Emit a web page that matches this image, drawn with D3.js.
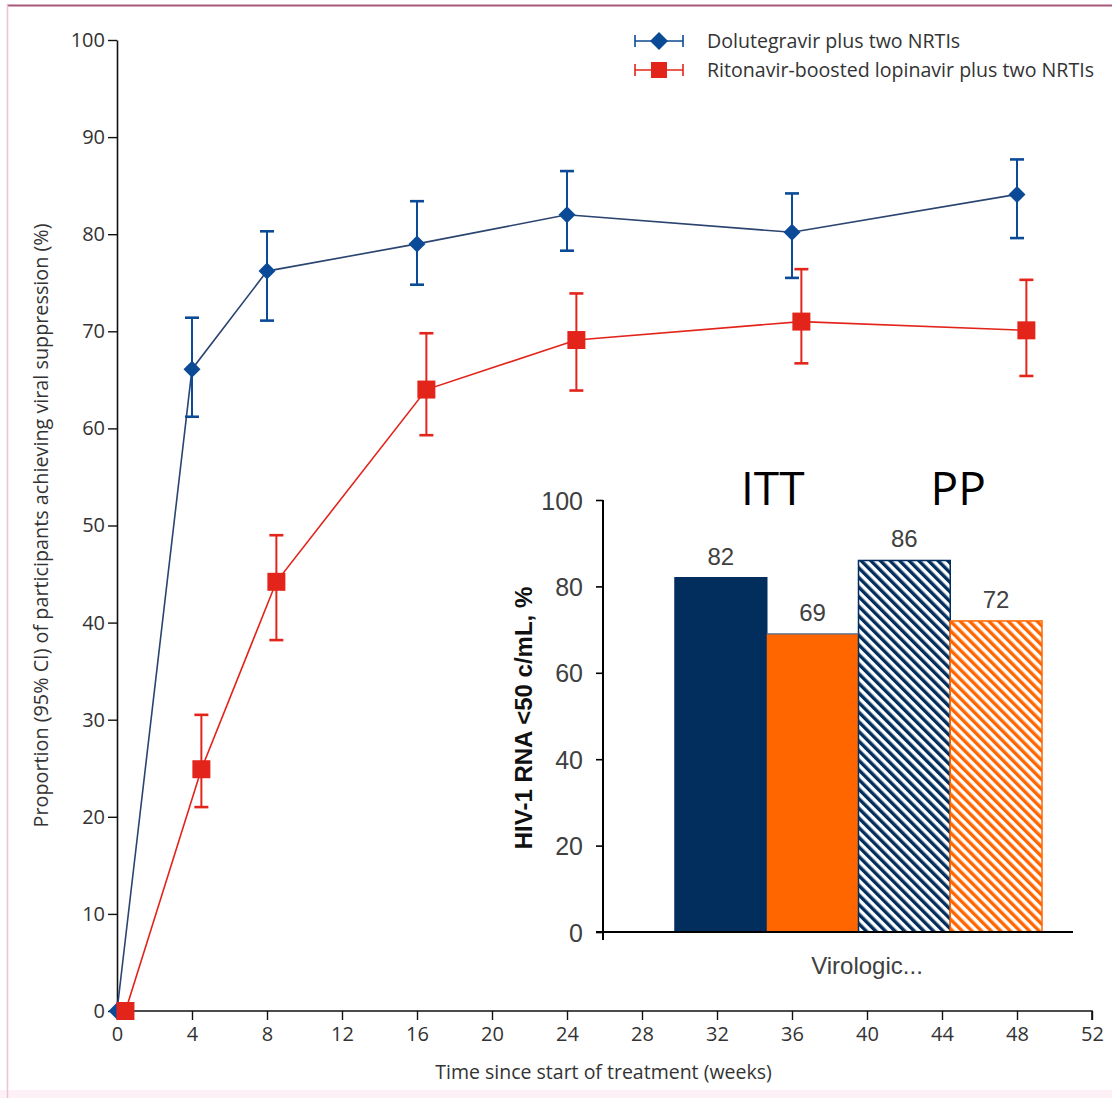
<!DOCTYPE html>
<html lang="en">
<head>
<meta charset="UTF-8">
<title>Viral suppression over time</title>
<style>
    body {
        margin: 0;
        padding: 0;
        background: #fff;
    }
    svg { display: block; }
    .main-text {
        font-family: "Open Sans", "Liberation Sans", sans-serif;
        fill: #333;
    }
    .inset-text {
        font-family: "Liberation Sans", Arial, sans-serif;
        fill: #404040;
    }
</style>
</head>
<body>
<div id="chart"></div>
<script src="https://cdnjs.cloudflare.com/ajax/libs/d3/7.8.5/d3.min.js"></script>
<script>
// main chart data
const dtgWeeks = [0, 4, 8, 16, 24, 36, 48];
const dtgValue = [0, 66.1, 76.2, 79.0, 82.0, 80.2, 84.1];
const dtgLow   = [null, 61.2, 71.1, 74.8, 78.3, 75.5, 79.6];
const dtgHigh  = [null, 71.4, 80.3, 83.4, 86.5, 84.2, 87.7];

// lopinavir points are plotted slightly offset to the right
const lpvWeeks = [0.45, 4.5, 8.5, 16.5, 24.5, 36.5, 48.5];
const lpvValue = [0, 24.9, 44.2, 64.0, 69.1, 71.0, 70.1];
const lpvLow   = [null, 21.0, 38.2, 59.3, 63.9, 66.7, 65.4];
const lpvHigh  = [null, 30.5, 49.0, 69.8, 73.9, 76.4, 75.3];

const seriesNames = ["Dolutegravir plus two NRTIs", "Ritonavir-boosted lopinavir plus two NRTIs"];
const xTicks = d3.range(0, 53, 4);
const yTicks = d3.range(0, 101, 10);

// inset bar chart data
const insetGroups = ["ITT", "PP"];
const insetBars = ["ITT-DTG", "ITT-LPV", "PP-DTG", "PP-LPV"];
const insetValues = [82, 69, 86, 72];
const insetTicks = [0, 20, 40, 60, 80, 100];
const insetCategory = "Virologic...";

const W = 1112, H = 1098;
const blue = "#0b4a96", blueLine = "#2b4470", red = "#e3241b", navy = "#022e5e", orange = "#ff6600";

const svg = d3.select("#chart").append("svg")
    .attr("width", W).attr("height", H);

// frame
svg.append("rect").attr("x", 0).attr("y", H - 8).attr("width", W).attr("height", 8).attr("fill", "#fdf1f7");
svg.append("line").attr("x1", 7).attr("x2", W).attr("y1", 5.5).attr("y2", 5.5)
    .attr("stroke", "#a8587a").attr("stroke-width", 2);
svg.append("line").attr("x1", 7.5).attr("x2", 7.5).attr("y1", 5).attr("y2", H)
    .attr("stroke", "#ecc3d3").attr("stroke-width", 1.5);

// patterns for hatched bars
const defs = svg.append("defs");
[["hatch-navy", navy], ["hatch-orange", orange]].forEach(([id, c]) => {
    const p = defs.append("pattern")
        .attr("id", id)
        .attr("patternUnits", "userSpaceOnUse")
        .attr("width", 6.8).attr("height", 6.8)
        .attr("patternTransform", "rotate(-45)");
    p.append("rect").attr("width", 6.8).attr("height", 6.8).attr("fill", "#fff");
    p.append("rect").attr("width", 3.4).attr("height", 6.8).attr("fill", c);
});

// ---------- main chart ----------
const x = d3.scaleLinear().domain([0, 52]).range([117, 1092]);
const y = d3.scaleLinear().domain([0, 100]).range([1011, 40]);

const xAxis = svg.append("g")
    .attr("transform", `translate(0,${y(0)})`)
    .call(d3.axisBottom(x).tickValues(xTicks).tickSize(9).tickPadding(7).tickSizeOuter(0));
const yAxis = svg.append("g")
    .attr("transform", `translate(${x(0)},0)`)
    .call(d3.axisLeft(y).tickValues(yTicks).tickSize(9).tickPadding(3).tickSizeOuter(0));

[xAxis, yAxis].forEach(a => {
    a.select(".domain").attr("stroke", "#111").attr("stroke-width", 1.6);
    a.selectAll(".tick line").attr("stroke", "#111").attr("stroke-width", 1.4);
    a.selectAll(".tick text").attr("class", "main-text").attr("font-size", 20).attr("fill", "#333");
});
xAxis.select(".domain").attr("d", `M${x(0)},0H${x(52)}V9`);

svg.append("text").attr("class", "main-text")
    .attr("x", (x(0) + x(52)) / 2 - 1).attr("y", 1079)
    .attr("text-anchor", "middle").attr("font-size", 19.5)
    .text("Time since start of treatment (weeks)");

svg.append("text").attr("class", "main-text")
    .attr("transform", `translate(48,${y(50)}) rotate(-90)`)
    .attr("text-anchor", "middle").attr("font-size", 19.8)
    .text("Proportion (95% CI) of participants achieving viral suppression (%)");

function drawSeries(weeks, vals, lows, highs, colour, lineColour, shape, size) {
    const g = svg.append("g");
    const pts = weeks.map((w, i) => ({ w, v: vals[i], lo: lows[i], hi: highs[i] }));
    g.append("path")
        .datum(pts)
        .attr("fill", "none")
        .attr("stroke", lineColour)
        .attr("stroke-width", 1.6)
        .attr("d", d3.line().x(d => x(d.w)).y(d => y(d.v)));
    const bars = pts.filter(d => d.lo != null);
    g.selectAll(".eb").data(bars).enter().append("line")
        .attr("x1", d => x(d.w)).attr("x2", d => x(d.w))
        .attr("y1", d => y(d.lo)).attr("y2", d => y(d.hi))
        .attr("stroke", colour).attr("stroke-width", 2);
    ["lo", "hi"].forEach(k => {
        g.selectAll(".cap-" + k).data(bars).enter().append("line")
            .attr("x1", d => x(d.w) - 7).attr("x2", d => x(d.w) + 7)
            .attr("y1", d => y(d[k])).attr("y2", d => y(d[k]))
            .attr("stroke", colour).attr("stroke-width", 2.6);
    });
    g.selectAll(".mk").data(pts).enter().append("path")
        .attr("transform", d => `translate(${x(d.w)},${y(d.v)})`)
        .attr("d", shape === "diamond"
            ? `M0,${-size}L${size},0L0,${size}L${-size},0Z`
            : `M${-size},${-size}H${size}V${size}H${-size}Z`)
        .attr("fill", colour);
}

drawSeries(dtgWeeks, dtgValue, dtgLow, dtgHigh, blue, blueLine, "diamond", 8.5);
drawSeries(lpvWeeks, lpvValue, lpvLow, lpvHigh, red, red, "square", 9);

// legend
const legend = svg.append("g");
seriesNames.forEach((name, i) => {
    const ly = 41 + i * 29;
    const c = i === 0 ? blue : red;
    const row = legend.append("g").attr("transform", `translate(659,${ly})`);
    row.append("line").attr("x1", -24).attr("x2", 24).attr("stroke", c).attr("stroke-width", 1.6);
    row.append("line").attr("x1", -24).attr("x2", -24).attr("y1", -6).attr("y2", 6).attr("stroke", c).attr("stroke-width", 1.6);
    row.append("line").attr("x1", 24).attr("x2", 24).attr("y1", -6).attr("y2", 6).attr("stroke", c).attr("stroke-width", 1.6);
    row.append("path").attr("fill", c)
        .attr("d", i === 0 ? "M0,-9L9,0L0,9L-9,0Z" : "M-8,-8H8V8H-8Z");
    legend.append("text").attr("class", "main-text")
        .attr("x", 707).attr("y", ly + 6.5).attr("font-size", 19.6)
        .text(name);
});

// ---------- inset bar chart ----------
const yi = d3.scaleLinear().domain([0, 100]).range([932, 500]);
const xi = d3.scaleBand().domain(insetBars).range([675, 1042]).padding(0);
const fills = [navy, orange, "url(#hatch-navy)", "url(#hatch-orange)"];
const strokes = [navy, "#4a6a96", navy, orange];

svg.append("g").selectAll("rect").data(insetBars).enter().append("rect")
    .attr("x", d => xi(d)).attr("width", xi.bandwidth())
    .attr("y", (d, i) => yi(insetValues[i]))
    .attr("height", (d, i) => yi(0) - yi(insetValues[i]))
    .attr("fill", (d, i) => fills[i])
    .attr("stroke", (d, i) => i === 1 ? null : strokes[i])
    .attr("stroke-width", 1.5);
// thin top edge on the solid orange bar
svg.append("line")
    .attr("x1", xi("ITT-LPV")).attr("x2", xi("ITT-LPV") + xi.bandwidth())
    .attr("y1", yi(insetValues[1])).attr("y2", yi(insetValues[1]))
    .attr("stroke", "#4a6a96").attr("stroke-width", 1.2);

svg.append("g").selectAll("text").data(insetBars).enter().append("text")
    .attr("class", "inset-text")
    .attr("x", d => xi(d) + xi.bandwidth() / 2)
    .attr("y", (d, i) => yi(insetValues[i]) - 13)
    .attr("text-anchor", "middle").attr("font-size", 24)
    .text((d, i) => insetValues[i]);

const yiAxis = svg.append("g")
    .attr("transform", "translate(603,0)")
    .call(d3.axisLeft(yi).tickValues(insetTicks).tickSize(7).tickPadding(13).tickSizeOuter(0));
yiAxis.select(".domain").attr("d", `M0,${yi(100)}V${yi(0) + 8}`).attr("stroke", "#000").attr("stroke-width", 2);
yiAxis.selectAll(".tick line").attr("stroke", "#000").attr("stroke-width", 1.6);
yiAxis.selectAll(".tick text").attr("class", "inset-text").attr("font-size", 25).attr("dy", "0.36em");

svg.append("line").attr("x1", 596).attr("x2", 1073).attr("y1", yi(0)).attr("y2", yi(0))
    .attr("stroke", "#000").attr("stroke-width", 2);

svg.append("text").attr("class", "inset-text")
    .attr("x", 867).attr("y", 974).attr("text-anchor", "middle").attr("font-size", 24)
    .text(insetCategory);

svg.append("text")
    .attr("transform", `translate(532,${(yi(0) + yi(100)) / 2 + 2}) rotate(-90)`)
    .attr("text-anchor", "middle")
    .attr("font-family", "Liberation Sans, Arial, sans-serif")
    .attr("font-weight", "bold").attr("font-size", 24).attr("fill", "#111")
    .text("HIV-1 RNA <50 c/mL, %");

insetGroups.forEach((grp, i) => {
    const a = xi(insetBars[i * 2]), b = xi(insetBars[i * 2 + 1]) + xi.bandwidth();
    svg.append("text")
        .attr("x", (a + b) / 2 + (i === 0 ? 6 : 8)).attr("y", 505)
        .attr("text-anchor", "middle")
        .attr("font-family", "Open Sans, Liberation Sans, sans-serif")
        .attr("font-size", 46).attr("fill", "#000")
        .text(grp);
});
</script>
</body>
</html>
